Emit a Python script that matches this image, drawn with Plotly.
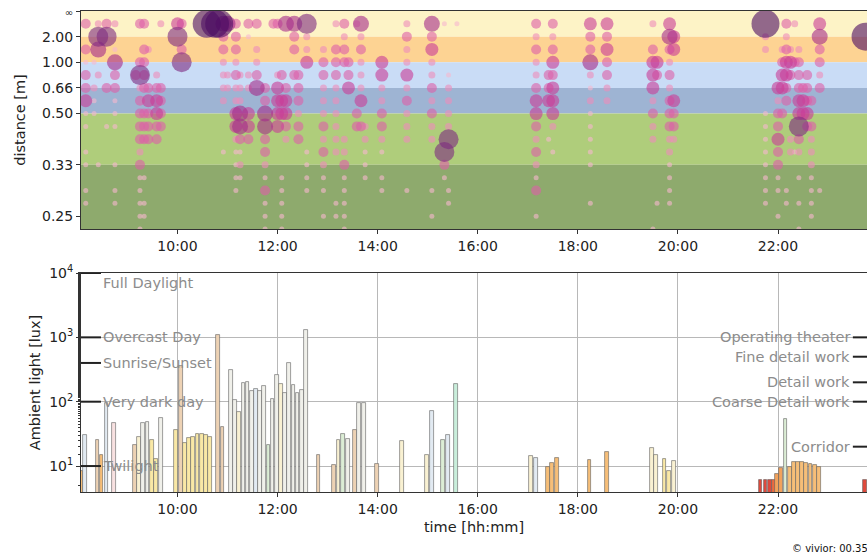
import plotly.graph_objects as go
import math

DAY = "2021-01-01 "

# ---------------- top panel: viewing distance (bubbles) ----------------
row_diopters = [0.25, 0.50, 0.75, 1.00, 1.25, 1.50, 1.75, 2.00, 2.25,
                2.50, 2.75, 3.00, 3.25, 3.50, 3.75, 4.00, 4.25]

bubble_times = [
    "08:10", "08:20", "08:25", "08:35", "08:45", "09:10", "09:15", "09:20", "09:25",
    "09:35", "09:40", "10:00", "10:05", "10:35", "10:45", "10:50", "10:55", "11:00",
    "11:10", "11:15", "11:25", "11:35", "11:45", "11:55", "12:00", "12:05", "12:10",
    "12:20", "12:25", "12:35", "12:55", "13:10", "13:20", "13:25", "13:35", "13:40",
    "13:45", "14:05", "14:35", "15:05", "15:20", "15:25", "15:35", "17:10", "17:25",
    "17:30", "18:15", "18:35", "19:30", "19:35", "19:50", "19:55", "21:45", "22:00",
    "22:05", "22:10", "22:15", "22:20", "22:25", "22:30", "22:35", "22:40", "22:50",
    "23:45",
]
# one digit per distance row (0.25 D ... 4.25 D); 0 = no samples, 1..7 = amount
bubble_codes = [
    "30313341101101100", "00010211000000000", "26502000000100000", "36000300100000000",
    "20153311100101100", "00003000000000000", "30036233332311111", "30333303330010110",
    "00200343330000000", "00002344330000000", "20000333300000000", "46000000000000000",
    "30360000000000000", "70000000000000000", "70000000000000000", "70000000000000000",
    "53322220001000000", "50002200000000000", "33323224421111000", "00002225531210000",
    "31002204430000000", "30223500000000000", "00000335533213111", "30000000000000000",
    "30002444400000000", "00003044000011111", "50000344320000000", "53303000000000000",
    "00003332330000000", "62240000001111000", "00233222323211010", "20333222222000110",
    "32330000022311111", "00033400000000000", "20000003300000000", "52322240300000000",
    "00000000221110000", "00044223321011000", "23224232220001000", "53422323220001010",
    "10000000006310000", "00001222260001100", "10000000000000000", "32322344323213010",
    "00003340010000000", "32343444201000000", "43352121111100100", "43433220000000000",
    "20344423220000001", "00043000000000100", "45323233322111100", "04400043320000000",
    "72200001111111100", "00000423343311010", "00234403000000000", "32344330000001100",
    "00243000022000000", "20030000001000000", "00233344632010101", "00000344000000000",
    "00003334300000000", "00000030322211110", "45332300000001000", "07000000000000000",
]

band_bounds = [0.0, 0.5, 1.0, 1.5, 2.0, 3.0, 4.25]
band_colors = ["#FDF3C6", "#FDD393", "#C9DCF6", "#9EB4D3", "#AFCD7B", "#8EAA6D"]

distance_tick_d = [0, 0.5, 1, 1.5, 2, 3, 4]
distance_tick_labels = ["<span style='font-size:10px'>∞</span>", "2.00", "1.00",
                        "0.66", "0.50", "0.33", "0.25"]

# ---------------- bottom panel: ambient light (bars) ----------------
lux_times = [
    "08:05", "08:09", "08:24", "08:29", "08:35", "08:44", "09:09", "09:14", "09:19",
    "09:24", "09:29", "09:34", "09:40", "09:58", "10:04", "10:09", "10:14", "10:19",
    "10:24", "10:29", "10:34", "10:39", "10:49", "10:54", "11:04", "11:09", "11:14",
    "11:19", "11:24", "11:29", "11:34", "11:39", "11:44", "11:49", "11:54", "11:59",
    "12:04", "12:09", "12:14", "12:19", "12:24", "12:29", "12:34", "12:49", "13:08",
    "13:13", "13:18", "13:24", "13:33", "13:38", "13:44", "13:59", "14:29", "14:59",
    "15:05", "15:18", "15:24", "15:34", "17:04", "17:10", "17:24", "17:29", "17:35",
    "18:14", "18:35", "19:29", "19:34", "19:44", "19:49", "19:55", "21:39", "21:45",
    "21:50", "21:55", "21:59", "22:04", "22:09", "22:14", "22:19", "22:24", "22:29",
    "22:34", "22:39", "22:44", "22:49", "23:44",
]
lux_values = [
    8.5, 30, 25, 14.8, 94, 47, 21, 28, 46,
    48, 25, 13, 55, 36, 355, 22.5, 27.6, 28.6,
    31.4, 31, 30, 28, 1087, 40, 310, 106, 70,
    193, 200, 148, 157, 147, 177, 21, 111, 260,
    188, 138, 394, 182, 138, 152, 1300, 14.8, 10.4,
    25, 32, 26, 36, 94, 96, 10.7, 24.8, 14.8,
    72, 25, 30, 186, 14.5, 13.2, 9.8, 11.3, 13.2,
    12.4, 16.3, 18.8, 14.8, 12.7, 8.5, 12, 6.05, 6.0,
    6.0, 6.1, 7.5, 9.2, 54, 9.8, 11.4, 11.5, 11.4,
    11.0, 10.8, 10.5, 9.5, 6.0,
]
lux_kind = [
    "O", "B", "P", "O", "B", "K", "P", "C", "W",
    "W", "Y", "Y", "W", "Y", "P", "Y", "Y", "Y",
    "Y", "Y", "Y", "Y", "P", "P", "W", "W", "C",
    "W", "W", "W", "B", "W", "W", "G", "W", "W",
    "C", "W", "W", "W", "W", "W", "W", "P", "P",
    "C", "G", "W", "P", "W", "W", "P", "C", "C",
    "B", "G", "B", "M", "C", "B", "O", "O", "O",
    "O", "O", "C", "C", "Y", "Y", "C", "R", "R",
    "R", "Q", "D", "D", "G", "O", "O", "O", "O",
    "O", "O", "O", "O", "R",
]
kind_palette = {
    "O": "#F6BE78", "D": "#F2A25C", "P": "#EDD2B4", "C": "#F9F1D2", "Y": "#F9E8A6",
    "W": "#F0F0EA", "B": "#E2EAF2", "G": "#DCEDD5", "M": "#C9EEDB", "K": "#F8E1E1",
    "R": "#E04A3C", "Q": "#EA6A40",
}

ref_left_vals = [10000, 1000, 400, 100, 10]
ref_left_labels = ["Full Daylight", "Overcast Day", "Sunrise/Sunset", "Very dark day", "Twilight"]
ref_right_vals = [1000, 500, 200, 100, 20]
ref_right_labels = ["Operating theater", "Fine detail work", "Detail work",
                    "Coarse Detail work", "Corridor"]

# ---------------- build figure ----------------
size_px = {1: 5, 2: 7, 3: 10, 4: 13, 5: 16, 6: 20, 7: 28}
size_col = {1: "#F7B8CF", 2: "#EE8CBB", 3: "#DD5FA8", 4: "#C93C97",
            5: "#A52B8A", 6: "#7D2A80", 7: "#4B0B62"}

pts = []
for t, code in zip(bubble_times, bubble_codes):
    for d, ch in zip(row_diopters, code):
        if ch != "0":
            pts.append((int(ch), DAY + t, d))
pts.sort(key=lambda p: p[0])

fig = go.Figure()

fig.add_trace(go.Scatter(
    x=[p[1] for p in pts], y=[p[2] for p in pts], mode="markers",
    marker=dict(size=[size_px[p[0]] for p in pts], color=[size_col[p[0]] for p in pts],
                opacity=0.6, line=dict(width=0)),
    xaxis="x", yaxis="y", showlegend=False, hoverinfo="skip"))

fig.add_trace(go.Bar(
    x=[DAY + t for t in lux_times], y=lux_values, width=270000,
    marker=dict(color=[kind_palette[k] for k in lux_kind],
                line=dict(color="rgba(95,95,95,0.75)", width=0.8)),
    xaxis="x2", yaxis="y2", showlegend=False, hoverinfo="skip"))

shapes = []
for i, c in enumerate(band_colors):
    shapes.append(dict(type="rect", xref="x domain", yref="y", x0=0, x1=1,
                       y0=band_bounds[i], y1=band_bounds[i + 1], fillcolor=c,
                       line=dict(width=0), layer="below"))

annotations = []
grey = "#8c8c8c"
for v, lab in zip(ref_left_vals, ref_left_labels):
    shapes.append(dict(type="line", xref="x2 domain", yref="y2", x0=0, x1=0.0254,
                       y0=v, y1=v, line=dict(color="#222", width=2)))
    annotations.append(dict(xref="x2 domain", yref="y2", x=0.0254, y=math.log10(v),
                            text=lab, showarrow=False, xanchor="left",
                            yanchor="top" if v == 10000 else "middle",
                            font=dict(size=14.5, color=grey, family="DejaVu Sans")))
for v, lab in zip(ref_right_vals, ref_right_labels):
    shapes.append(dict(type="line", xref="x2 domain", yref="y2", x0=0.982, x1=1.0,
                       y0=v, y1=v, line=dict(color="#222", width=2)))
    annotations.append(dict(xref="x2 domain", yref="y2", x=0.981, y=math.log10(v),
                            text=lab, showarrow=False, xanchor="right", yanchor="middle",
                            font=dict(size=14.5, color=grey, family="DejaVu Sans")))

annotations.append(dict(xref="paper", yref="paper", x=0.902, y=-0.118,
                        text="© vivior: 00.35.21", showarrow=False,
                        xanchor="left", yanchor="middle",
                        font=dict(size=10, color="#111", family="DejaVu Sans")))

xr = [DAY + "08:04:18", DAY + "23:46:43"]
tickfont = dict(size=14, color="#222", family="DejaVu Sans")
common_x = dict(type="date", range=xr, tickformat="%H:%M", tick0=DAY + "10:00",
                dtick=7200000, ticks="outside", ticklen=4, tickcolor="#333",
                showline=True, linecolor="#333", linewidth=1, mirror=True,
                zeroline=False, tickfont=tickfont)

fig.update_layout(
    width=867, height=559,
    margin=dict(l=81, r=0, t=11, b=67),
    paper_bgcolor="white", plot_bgcolor="white",
    font=dict(family="DejaVu Sans", color="#222"),
    xaxis=dict(domain=[0, 1], anchor="y", showgrid=False, **common_x),
    yaxis=dict(domain=[0.5468, 1], anchor="x", range=[4.25, 0],
               tickvals=distance_tick_d, ticktext=distance_tick_labels,
               ticks="outside", ticklen=4, tickcolor="#333", showline=True,
               linecolor="#333", linewidth=1, showgrid=False, zeroline=False,
               tickfont=tickfont,
               title=dict(text="distance [m]", standoff=12,
                          font=dict(size=14.5, color="#222"))),
    xaxis2=dict(domain=[0, 1], anchor="y2", showgrid=True, gridcolor="#b8b8b8",
                gridwidth=1,
                title=dict(text="time [hh:mm]", standoff=6,
                           font=dict(size=14.5, color="#222")),
                **common_x),
    yaxis2=dict(domain=[0, 0.4553], anchor="x2", type="log", range=[0.5966, 4],
                tickvals=[10, 100, 1000, 10000],
                ticktext=["10<sup>1</sup>", "10<sup>2</sup>", "10<sup>3</sup>", "10<sup>4</sup>"],
                ticks="outside", ticklen=4, tickcolor="#333", showline=True,
                linecolor="#333", linewidth=1, showgrid=True, gridcolor="#b8b8b8",
                zeroline=False, tickfont=tickfont,
                minor=dict(ticks="outside", ticklen=2, tickcolor="#333", showgrid=False),
                title=dict(text="Ambient light [lux]", standoff=5,
                           font=dict(size=14.5, color="#222"))),
    shapes=shapes, annotations=annotations,
    bargap=0,
)

fig.write_html("out.html")
